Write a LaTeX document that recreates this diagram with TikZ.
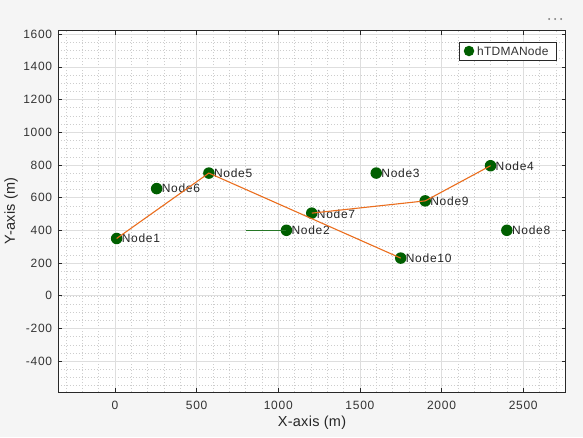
\documentclass[tikz,border=0pt]{standalone}
\usepackage{fontspec}
\setmainfont{Liberation Sans}
\newfontfamily\lsf[LetterSpace=6]{Liberation Sans}
\newfontfamily\lsfb[LetterSpace=2]{Liberation Sans}
\definecolor{bgc}{RGB}{245,245,245}
\definecolor{mk}{RGB}{0,95,0}
\definecolor{orl}{RGB}{235,110,30}
\definecolor{gmaj}{RGB}{222,222,222}
\definecolor{gmin}{RGB}{205,205,205}
\definecolor{axc}{RGB}{40,40,40}
\tikzset{
  marker/.style={circle,fill=mk,inner sep=0pt,minimum size=11.5pt},
  nlab/.style={font=\lsf\fontsize{12}{14}\selectfont,text=black!85,inner sep=0.5pt},
  ticklab/.style={font=\lsf\fontsize{12}{14}\selectfont,text=black!80,inner sep=0pt},
  axlab/.style={font=\lsfb\fontsize{14.5}{16}\selectfont,text=black!85,inner sep=0pt},
  link/.style={draw=orl,line width=1.1pt},
  glink/.style={draw=mk!85,line width=0.9pt},
  majgrid/.style={draw=gmaj,line width=0.6pt},
  mingrid/.style={draw=gmin,line width=0.4pt,dash pattern=on 1pt off 2pt},
}
\begin{document}
\begin{tikzpicture}[x=1pt,y=1pt]
\useasboundingbox (0,0) rectangle (583,-437);
\fill[bgc] (0,0) rectangle (583,-437);
\begin{scope}[shift={(115,-295.7)},x=0.16327pt,y=0.1635pt]
  \fill[white] (-350,-590) rectangle (2760,1620);
  % minor grid
  \foreach \gx in {-300,-200,...,2700} \draw[mingrid] (\gx,-590) -- (\gx,1620);
  \foreach \gy in {-550,-500,...,1600} \draw[mingrid] (-350,\gy) -- (2760,\gy);
  % major grid
  \foreach \gx in {0,500,...,2500} \draw[majgrid] (\gx,-590) -- (\gx,1620);
  \foreach \gy in {-400,-200,...,1600} \draw[majgrid] (-350,\gy) -- (2760,\gy);
  % ticks
  \foreach \gx in {0,500,...,2500} {
    \draw[axc,line width=0.6pt] (\gx,-590) -- ++(0,4pt);
    \draw[axc,line width=0.6pt] (\gx,1620) -- ++(0,-4pt);
    \node[ticklab] (xt\gx) at (\gx,-590) [yshift=-13.5pt] {\gx};
  }
  \foreach \gy in {-400,-200,...,1600} {
    \draw[axc,line width=0.6pt] (-350,\gy) -- ++(4pt,0);
    \draw[axc,line width=0.6pt] (2760,\gy) -- ++(-4pt,0);
    \node[ticklab,anchor=east] (yt\gy) at (-350,\gy) [xshift=-5.5pt] {\gy};
  }
  \draw[axc,line width=0.7pt] (-350,-590) rectangle (2760,1620);
  % nodes
  \node[marker,label={[nlab,xshift=-1.5pt]right:Node1}] (n1) at (10,350) {};
  \node[marker,label={[nlab,xshift=-1.5pt]right:Node2}] (n2) at (1050,400) {};
  \node[marker,label={[nlab,xshift=-1.5pt]right:Node3}] (n3) at (1600,750) {};
  \node[marker,label={[nlab,xshift=-1.5pt]right:Node4}] (n4) at (2300,795) {};
  \node[marker,label={[nlab,xshift=-1.5pt]right:Node5}] (n5) at (575,750) {};
  \node[marker,label={[nlab,xshift=-1.5pt]right:Node6}] (n6) at (255,655) {};
  \node[marker,label={[nlab,xshift=-1.5pt,yshift=-1pt]right:Node7}] (n7) at (1205,505) {};
  \node[marker,label={[nlab,xshift=-1.5pt]right:Node8}] (n8) at (2400,400) {};
  \node[marker,label={[nlab,xshift=-1.5pt]right:Node9}] (n9) at (1900,580) {};
  \node[marker,label={[nlab,xshift=-1.5pt]right:Node10}] (n10) at (1750,230) {};
  \coordinate (g0) at (800,400);
  \draw[glink] (g0) -- (n2.center);
  \draw[link] (n1.center) -- (n5.center) -- (n10.center);
  \draw[link] (n7.center) -- (n9.center) -- (n4.center);
\end{scope}
% legend
\node[draw=axc,fill=white,line width=0.6pt,minimum width=97pt,minimum height=18pt,inner sep=0pt] (leg) at (507.5,-51) {};
\node[marker,minimum size=10.5pt] (legm) at (469,-51) {};
\node[ticklab,anchor=west,font=\lsfb\fontsize{12}{14}\selectfont] (legt) at (477,-51) {hTDMANode};
% axis labels
\node[axlab] (xl) at (312,-423) {X-axis (m)};
\node[axlab,rotate=90] (yl) at (11,-211) {Y-axis (m)};
% dots menu
\foreach \dx in {549,555,561} \fill[black!55] (\dx,-19) circle (1pt);
\end{tikzpicture}
\end{document}
